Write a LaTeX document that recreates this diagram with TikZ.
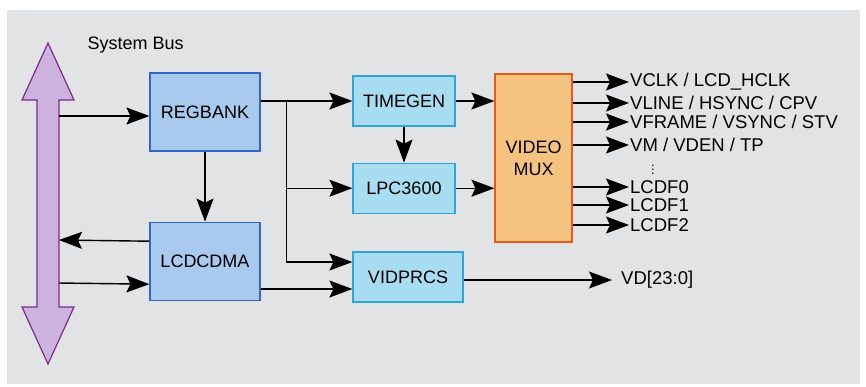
\documentclass[tikz,border=0pt]{standalone}
\usepackage{fontspec}
\setmainfont{Liberation Sans}
\usetikzlibrary{arrows.meta, positioning}
\definecolor{panelBg}{HTML}{E2E3E4}
\definecolor{busFill}{HTML}{CDB2DD}
\definecolor{busEdge}{HTML}{7B2C8C}
\definecolor{ctlFill}{HTML}{A9C9EE}
\definecolor{ctlEdge}{HTML}{3567C2}
\definecolor{vidFill}{HTML}{A7DCF1}
\definecolor{vidEdge}{HTML}{2FA4DB}
\definecolor{muxFill}{HTML}{F5C27F}
\definecolor{muxEdge}{HTML}{E65A1F}

\begin{document}
\begin{tikzpicture}[x=1pt, y=-1pt,
  every node/.style={font=\fontsize{18}{20}\selectfont},
  ctlblk/.style={draw=ctlEdge, fill=ctlFill, line width=1.2pt, minimum width=110pt, minimum height=78pt},
  vidblk/.style={draw=vidEdge, fill=vidFill, line width=1.2pt, minimum width=102pt, minimum height=50pt},
  muxblk/.style={draw=muxEdge, fill=muxFill, line width=1.2pt, align=center, minimum width=77pt, minimum height=168pt},
  siglbl/.style={anchor=west, inner sep=1pt, font=\fontsize{18.5}{20}\selectfont},
  arr/.style={-{Stealth[length=23pt,width=17pt,inset=4pt]}, line width=1.4pt}
]
  \useasboundingbox (0,0) rectangle (866,386);
  \fill[panelBg] (7,10) rectangle (860,384);

  % system bus
  \draw[busEdge, fill=busFill, line width=1.2pt]
    (48,43) -- (74,100) -- (59,100) -- (59,307) -- (74,307) -- (48,364)
    -- (22,307) -- (37,307) -- (37,100) -- (22,100) -- cycle;
  \coordinate (busR) at (59,200);
  \node[anchor=west] (buslbl) at (84,45) {System Bus};

  % blocks
  \node[ctlblk] (regbank) at (205,112) {REGBANK};
  \node[ctlblk, below=70pt of regbank] (lcdcdma) {LCDCDMA};
  \node[vidblk] (timegen) at (404,101) {TIMEGEN};
  \node[vidblk, below=36pt of timegen] (lpc) {LPC3600};
  \node[vidblk, minimum width=110pt] (vidprcs) at (408,277) {VIDPRCS};
  \node[muxblk] (mux) at (533.5,158) {VIDEO\\[2pt]MUX};

  % bus connections
  \draw[arr] (busR |- 0,116) -- ([yshift=-4pt]regbank.west);
  \draw[arr] ([yshift=20pt]lcdcdma.west) -- (busR |- 0,240);
  \draw[arr] (busR |- 0,283) -- ([yshift=-23pt]lcdcdma.west);
  \draw[arr] (regbank.south) -- (lcdcdma.north);

  % register bank fan-out
  \coordinate (split) at ([xshift=-66pt]timegen.west);
  \coordinate (vin1) at ([yshift=15pt]vidprcs.west);
  \coordinate (vin2) at ([yshift=-12pt]vidprcs.west);
  \draw[arr] (regbank.east |- timegen.west) -- (timegen.west);
  \draw[arr] (split) |- (vin1);
  \draw[arr] (split |- lpc.west) -- (lpc.west);
  \draw[arr] (lcdcdma.east |- vin2) -- (vin2);

  % timing path
  \draw[arr] (timegen.south) -- (lpc.north);
  \draw[arr] (timegen.east) -- (timegen.east -| mux.west);
  \draw[arr] (lpc.east) -- (lpc.east -| mux.west);

  % mux outputs
  \foreach \yy/\lbl [count=\i] in {82/{VCLK / LCD\_HCLK}, 103/{VLINE / HSYNC / CPV},
      122/{VFRAME / VSYNC / STV}, 145/{VM / VDEN / TP}, 187/{LCDF0}, 205/{LCDF1}, 225/{LCDF2}}{
    \node[siglbl] (sig\i) at (629,\yy) {\lbl};
    \draw[arr] (mux.east |- sig\i.west) -- (sig\i.west);
  }
  \node[inner sep=0pt, font=\fontsize{13}{13}\selectfont] (vdots) at (653,167) {$\vdots$};

  \node[siglbl, inner xsep=9pt] (vd) at (612,280) {VD[23:0]};
  \draw[arr] (vidprcs.east |- vd.west) -- (vd.west);
\end{tikzpicture}
\end{document}
